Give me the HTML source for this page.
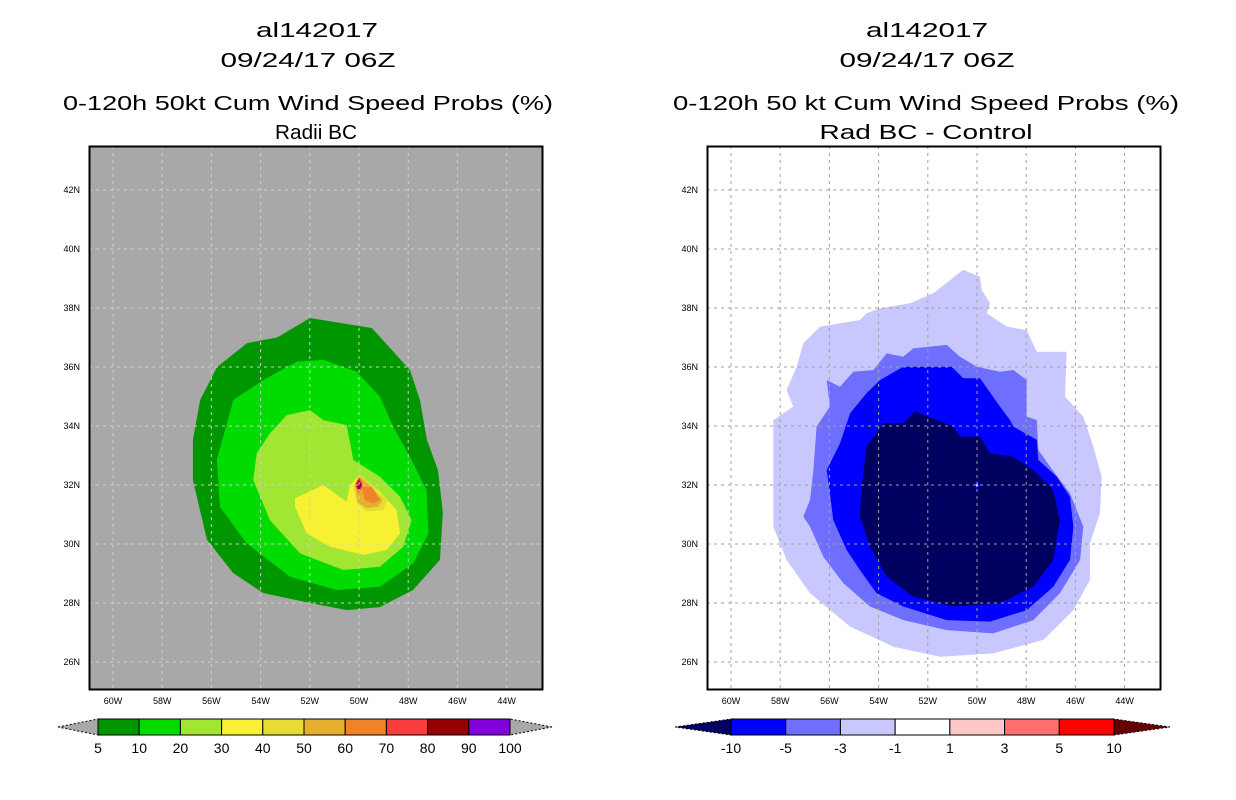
<!DOCTYPE html>
<html><head><meta charset="utf-8"><style>
html,body{margin:0;padding:0;background:#fff;}
svg{display:block;font-family:"Liberation Sans",sans-serif;}
</style></head><body>
<svg id="chart" width="1236" height="800" viewBox="0 0 1236 800" xmlns="http://www.w3.org/2000/svg">
<g font-size="20" text-anchor="middle" fill="#000">
<text x="317" y="37" textLength="122" lengthAdjust="spacingAndGlyphs">al142017</text>
<text x="308" y="67" textLength="175" lengthAdjust="spacingAndGlyphs">09/24/17 06Z</text>
<text x="308" y="110" textLength="490" lengthAdjust="spacingAndGlyphs">0-120h 50kt Cum Wind Speed Probs (%)</text>
<text x="316" y="139" textLength="82" lengthAdjust="spacingAndGlyphs">Radii BC</text>
</g>
<g font-size="20" text-anchor="middle" fill="#000">
<text x="927" y="37" textLength="122" lengthAdjust="spacingAndGlyphs">al142017</text>
<text x="927" y="67" textLength="175" lengthAdjust="spacingAndGlyphs">09/24/17 06Z</text>
<text x="926" y="110" textLength="506" lengthAdjust="spacingAndGlyphs">0-120h 50 kt Cum Wind Speed Probs (%)</text>
<text x="926" y="139" textLength="213" lengthAdjust="spacingAndGlyphs">Rad BC - Control</text>
</g>
<g id="left"></g>
<g id="right"></g>
<g id="cbars"></g>
</svg>
<script>
// axis ticks
const lonTicks=[60,58,56,54,52,50,48,46,44];
const latTicks=[42,40,38,36,34,32,30,28,26];
// left panel contours (lon in degrees W, lat in degrees N)
const p5Lon=[51.99,49.47,47.93,47.52,47.24,46.79,46.59,46.71,47.8,49.15,50.49,51.99,53.9,55.12,56.18,56.75,56.75,56.46,55.77,54.55,53.33];
const p5Lat=[37.66,37.32,35.9,34.88,33.53,32.5,31.05,29.46,28.44,27.86,27.76,28.0,28.34,29.02,30.14,32.17,33.53,34.88,36.0,36.81,37.0];
const p10Lon=[52.53,51.45,50.09,49.15,48.61,47.93,47.25,47.18,47.79,49.15,50.91,52.8,54.57,55.65,55.78,55.11,53.89];
const p10Lat=[36.18,36.24,35.84,34.99,33.98,32.96,31.83,30.36,29.35,28.55,28.44,28.89,30.02,31.26,32.85,34.88,35.56];
const p20Lon=[52.94,51.99,51.45,50.5,50.23,49.15,48.33,47.86,48.2,49.15,50.64,52.4,53.62,54.3,54.16,53.62];
const p20Lat=[34.37,34.54,34.2,34.03,32.85,32.28,31.6,30.81,29.91,29.23,29.12,29.68,30.81,32.17,33.07,33.75];
const p30Lon=[52.6,51.45,50.5,50.37,49.96,49.15,48.47,48.33,48.87,49.82,51.18,52.13,52.6];
const p30Lat=[31.55,32.0,31.43,32.0,32.34,31.77,31.15,30.36,29.8,29.63,29.91,30.36,31.26];
const p40Lon=[50.23,49.96,49.42,48.87,49.0,49.69,50.09];
const p40Lat=[31.94,32.34,31.94,31.49,31.15,31.1,31.38];
const p50Lon=[50.15,49.98,49.5,49.05,49.2,49.7,50.05];
const p50Lat=[31.95,32.3,31.93,31.5,31.27,31.22,31.4];
const p60Lon=[49.89,49.48,49.15,49.42,49.76];
const p60Lat=[31.94,31.94,31.49,31.38,31.49];
const leftLevels=["#009600","#00dc00","#a0e632","#f8f032","#e6dc32","#e6af2d","#f08228"];
// right panel contours
const rLightLon=[50.56,49.88,49.81,49.47,49.61,48.79,47.98,47.57,46.36,46.42,45.68,45.27,44.93,45.0,45.41,45.41,46.08,47.3,49.34,51.5,53.4,55.16,56.79,57.74,58.28,58.28,57.47,57.74,57.33,57.06,56.38,55.57,54.76,54.49,53.94,52.72,51.78];
const rLightLat=[39.29,39.06,38.61,38.16,37.82,37.37,37.25,36.52,36.52,34.99,34.32,33.3,32.28,31.04,30.02,28.78,27.76,26.75,26.29,26.18,26.52,27.2,28.33,29.46,30.59,34.2,34.66,35.22,36.01,36.8,37.37,37.48,37.59,37.82,37.99,38.16,38.5];
const rMedLon=[52.59,51.23,50.69,50.01,49.07,48.52,47.98,47.98,47.57,47.51,47.03,46.22,45.68,45.81,46.63,47.71,49.34,51.23,52.99,54.35,55.43,56.25,56.79,57.06,56.79,56.65,56.52,55.98,56.11,55.57,55.03,54.21,53.67,53.0];
const rMedLat=[36.63,36.75,36.35,36.01,35.84,35.9,35.56,34.32,34.2,33.19,32.62,31.72,30.59,29.46,28.33,27.42,26.97,27.08,27.42,27.88,28.67,29.57,30.59,30.93,31.49,32.51,33.98,34.66,35.56,35.33,35.84,35.9,36.46,36.35];
const rBlueLon=[52.99,51.03,50.56,49.88,49.07,48.66,48.52,47.57,47.51,46.76,46.22,46.08,46.22,46.9,47.98,49.47,51.23,52.99,54.08,54.76,55.3,55.84,55.98,56.11,55.57,55.16,54.49,53.94];
const rBlueLat=[36.01,36.01,35.62,35.62,34.66,34.2,33.98,33.53,32.85,32.28,31.6,30.59,29.46,28.55,27.76,27.37,27.42,27.88,28.33,29.12,29.8,30.81,31.72,32.51,33.41,34.43,35.11,35.56];
const rNavyLon=[52.52,50.96,50.69,49.88,49.47,48.52,47.71,46.9,46.63,46.9,47.71,49.07,50.96,52.59,53.67,54.35,54.76,54.69,54.49,53.81,53.0];
const rNavyLat=[34.49,33.98,33.64,33.64,33.07,32.96,32.51,31.83,30.81,29.46,28.55,27.99,27.88,28.21,28.89,29.91,30.93,31.94,33.3,34.09,34.09];
const rightLevels=["#c8c8ff","#6e6eff","#0000ff","#000060"];
const leftBarLabels=["5","10","20","30","40","50","60","70","80","90","100"];
const leftBarColors=["#009600","#00dc00","#a0e632","#f8f032","#e6dc32","#e6af2d","#f08228","#fa3c3c","#960000","#8200dc"];
const rightBarLabels=["-10","-5","-3","-1","1","3","5","10"];
const rightBarColors=["#0000ff","#6e6eff","#c8c8ff","#ffffff","#ffc8c8","#ff6e6e","#ff0000"];

const NS="http://www.w3.org/2000/svg";
function mk(tag,attrs,parent){const e=document.createElementNS(NS,tag);for(const k in attrs)e.setAttribute(k,attrs[k]);parent.appendChild(e);return e;}
const PX=24.6, PY=29.5, CY=485;
function xs(off,w){return 359+off-(w-50)*PX;}
function ys(lat){return CY-(lat-32)*PY;}
function poly(g,off,lons,lats,fill,name){
  const pts=lons.map((w,i)=>xs(off,w).toFixed(1)+","+ys(lats[i]).toFixed(1)).join(" ");
  const p=mk('polygon',{points:pts,fill:fill},g);
  
  
}
function panel(id,off,bg){
  const g=document.getElementById(id);
  const cp=mk('clipPath',{id:id+'clip'},g);
  mk('rect',{x:89+off,y:146,width:454,height:544},cp);
  const bgr=mk('rect',{x:89+off,y:146,width:454,height:544,fill:bg},g);
  
  
  const cg=mk('g',{'clip-path':'url(#'+id+'clip)'},g);
  return cg;
}
function gridAndAxes(id,off,cg,gridColor){
  const g=document.getElementById(id);
  lonTicks.forEach(w=>{
    const x=xs(off,w);
    const l=mk('line',{x1:x,y1:146,x2:x,y2:690,stroke:gridColor,'stroke-width':1,'stroke-dasharray':'3,4'},cg);
    
    
    const t=mk('text',{x:x,y:704,'font-size':9,'text-anchor':'middle'},g);
    t.textContent=w+"W";
    
    
  });
  latTicks.forEach(lat=>{
    const y=ys(lat);
    const l=mk('line',{x1:89+off,y1:y,x2:543+off,y2:y,stroke:gridColor,'stroke-width':1,'stroke-dasharray':'3,4'},cg);
    
    
    const t=mk('text',{x:80+off,y:y+3,'font-size':9,'text-anchor':'end'},g);
    t.textContent=lat+"N";
    
    
  });
  const fr=mk('rect',{x:89.5+off,y:146.5,width:453,height:543,fill:'none',stroke:'#000','stroke-width':2},g);
  
  
}
// left
const lg=panel('left',0,'#a8a8a8');
[[p5Lon,p5Lat],[p10Lon,p10Lat],[p20Lon,p20Lat],[p30Lon,p30Lat],[p40Lon,p40Lat],[p50Lon,p50Lat],[p60Lon,p60Lat]].forEach((c,i)=>poly(lg,0,c[0],c[1],leftLevels[i],'prob-contour-'+i));
[[0.28,"#fa3c3c"],[0.18,"#960000"],[0.09,"#8200dc"]].forEach((d,i)=>{
  const r=d[0];
  poly(lg,0,[50,50-r*0.6,50,50+r*0.6],[32+r,32,32-r,32],d[1],'center-peak-'+i);
});
gridAndAxes('left',0,lg,'#cfcfcf');
// right
const RO=618;
const rg=panel('right',RO,'#ffffff');
[[rLightLon,rLightLat],[rMedLon,rMedLat],[rBlueLon,rBlueLat],[rNavyLon,rNavyLat]].forEach((c,i)=>poly(rg,RO,c[0],c[1],rightLevels[i],'diff-contour-'+i));
poly(rg,RO,[50,49.88,50,50.12],[32.15,32,31.85,32],'#0000ff','center-blue');
poly(rg,RO,[50,49.95,50,50.05],[32.07,32,31.93,32],'#ffffff','center-white');
gridAndAxes('right',RO,rg,'#a0a0a0');
// colorbars
const cb=document.getElementById('cbars');
function colorbar(x0,x1,tipL,tipR,colors,labels,lcol,rcol,name){
  const n=colors.length, w=(x1-x0)/n, y0=719, y1=735, ym=727;
  const a=mk('polygon',{points:`${tipL},${ym} ${x0},${y0} ${x0},${y1}`,fill:lcol,stroke:'#000','stroke-width':1,'stroke-dasharray':'2,2'},cb);
  
  
  const b=mk('polygon',{points:`${tipR},${ym} ${x1},${y0} ${x1},${y1}`,fill:rcol,stroke:'#000','stroke-width':1,'stroke-dasharray':'2,2'},cb);
  
  
  colors.forEach((c,i)=>{
    const r=mk('rect',{x:x0+i*w,y:y0,width:w,height:y1-y0,fill:c,stroke:'#000','stroke-width':1},cb);
    
    
  });
  labels.forEach((l,i)=>{
    const t=mk('text',{x:x0+i*w,y:753,'font-size':14,'text-anchor':'middle'},cb);
    t.textContent=l;
    
    
  });
}
colorbar(98,510,58,552,leftBarColors,leftBarLabels,'#a8a8a8','#a8a8a8','left-colorbar');
colorbar(731,1114,675,1170,rightBarColors,rightBarLabels,'#000060','#640000','right-colorbar');
</script>
</body></html>
